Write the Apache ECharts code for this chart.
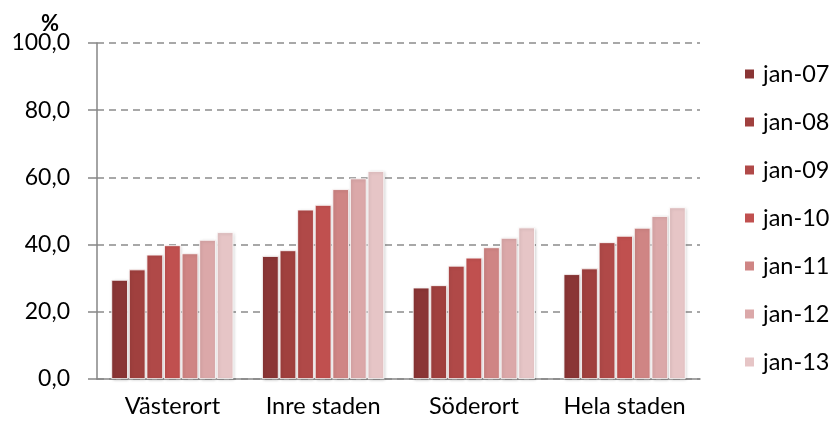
<!DOCTYPE html>
<html>
<head>
<meta charset="utf-8">
<script src="https://cdn.jsdelivr.net/npm/echarts@6/dist/echarts.min.js"></script>
<style>html,body{margin:0;padding:0;background:#fff}#c{width:833px;height:424px}</style>
</head>
<body>
<div id="c"></div>
<script>
const categories = ['Västerort', 'Inre staden', 'Söderort', 'Hela staden'];
const seriesNames = ['jan-07', 'jan-08', 'jan-09', 'jan-10', 'jan-11', 'jan-12', 'jan-13'];
const jan07 = [29.5, 36.6, 27.2, 31.2];
const jan08 = [32.6, 38.3, 27.9, 32.9];
const jan09 = [37.0, 50.4, 33.7, 40.7];
const jan10 = [39.8, 51.8, 36.1, 42.6];
const jan11 = [37.4, 56.5, 39.2, 45.0];
const jan12 = [41.4, 59.7, 42.0, 48.5];
const jan13 = [43.7, 61.9, 45.1, 51.1];
const yTicks = [0, 20, 40, 60, 80, 100];
const colors = ['#8A3535', '#A0403E', '#B04948', '#C0504F', '#CF8584', '#DBA8A9', '#E6C5C6'];
const values = [jan07, jan08, jan09, jan10, jan11, jan12, jan13];

const FONT = 'Lato';
const chart = echarts.init(document.getElementById('c'), null, {renderer: 'canvas'});
chart.setOption({
  animation: false,
  color: colors,
  grid: {left: 97, right: 133, top: 43, bottom: 45},
  legend: {
    orient: 'vertical',
    left: 743,
    top: 62,
    padding: 0,
    icon: 'rect',
    itemWidth: 11,
    itemHeight: 11,
    itemGap: 24,
    data: seriesNames,
    textStyle: {fontFamily: FONT, fontSize: 23.5, color: '#000', lineHeight: 24, padding: [0, 0, 0, 3]}
  },
  graphic: [{
    type: 'text', left: 41, top: 13,
    style: {text: '%', font: 'bold 22px ' + FONT, fill: '#000'}
  }],
  xAxis: {
    type: 'category',
    data: categories,
    axisLine: {lineStyle: {color: '#868686', width: 1.5}},
    axisTick: {length: 6, lineStyle: {color: '#868686', width: 1.5}},
    axisLabel: {fontFamily: FONT, fontSize: 23.5, color: '#000', margin: 15, interval: 0}
  },
  yAxis: {
    type: 'value',
    min: yTicks[0],
    max: yTicks[yTicks.length - 1],
    interval: 20,
    axisLine: {show: true, lineStyle: {color: '#868686', width: 1.5}},
    axisTick: {show: true, length: 9, lineStyle: {color: '#868686', width: 1.5}},
    axisLabel: {fontFamily: FONT, fontSize: 23, color: '#000', margin: 27,
      formatter: v => v.toFixed(1).replace('.', ',')},
    splitLine: {lineStyle: {color: '#8c8c8c', width: 1.5, type: [7, 5]}}
  },
  series: seriesNames.map((n, i) => ({
    name: n,
    type: 'bar',
    data: values[i],
    barGap: '6%',
    barCategoryGap: '19%',
    itemStyle: {
      color: colors[i],
      borderColor: '#fff',
      borderWidth: 0.8,
      shadowColor: 'rgba(0,0,0,0.18)',
      shadowBlur: 3,
      shadowOffsetX: 1,
      shadowOffsetY: 1
    }
  }))
});
</script>
</body>
</html>
